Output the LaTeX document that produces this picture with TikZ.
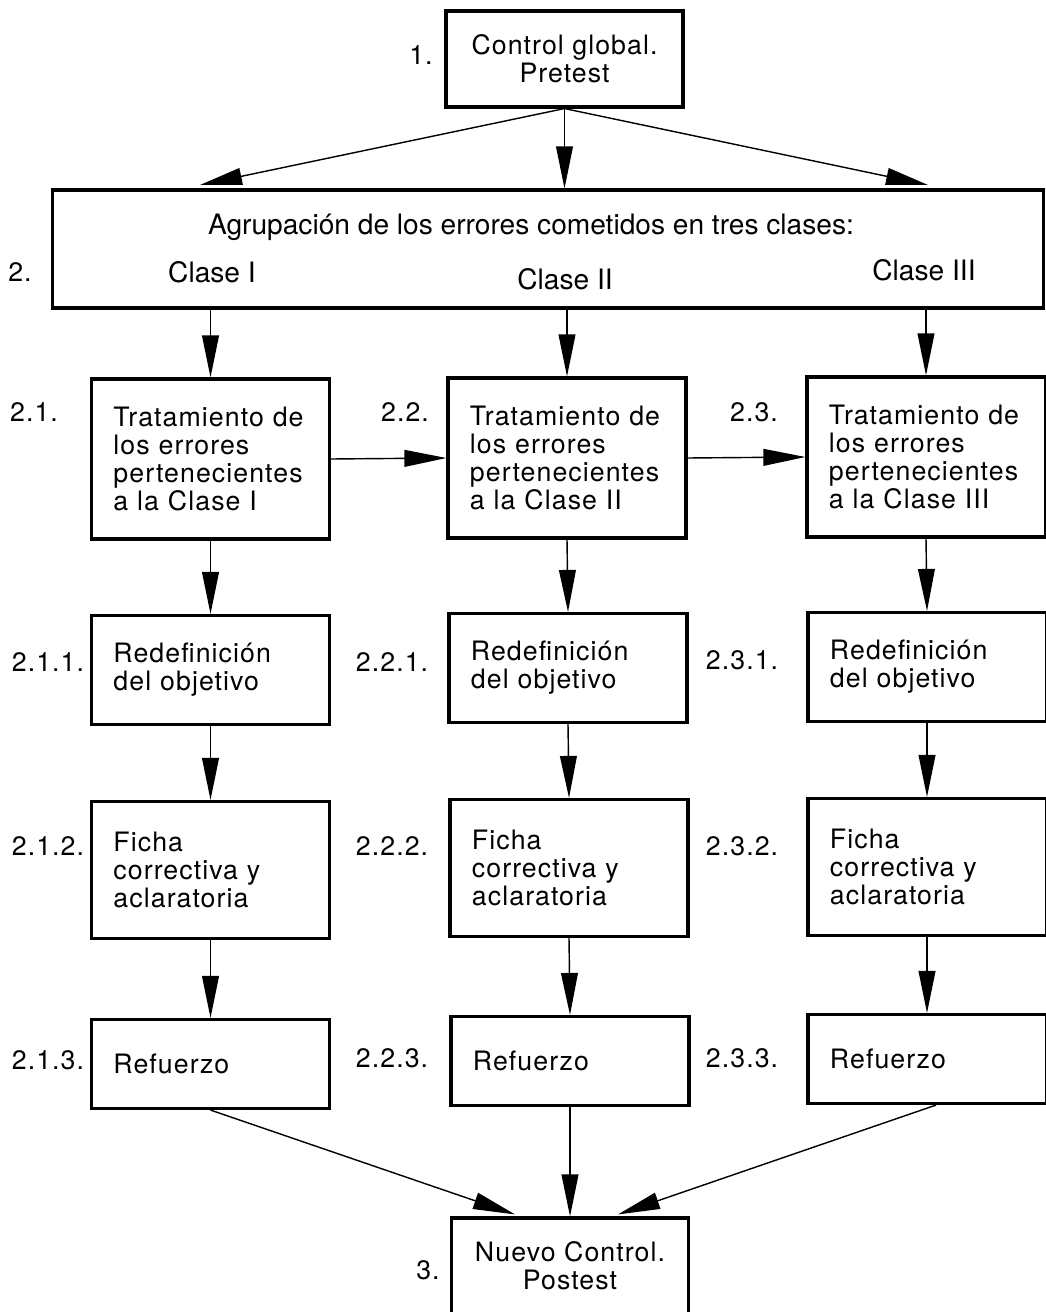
\documentclass[tikz,border=0pt]{standalone}
\usepackage{fontspec}
\setmainfont{TeX Gyre Heros}[LetterSpace=4]
\newfontfamily\plainfont{TeX Gyre Heros}
\usetikzlibrary{arrows.meta,calc}

\begin{document}
\begin{tikzpicture}[x=0.025cm,y=-0.025cm,
  font=\fontsize{19}{20}\selectfont,
  box/.style={draw,line width=2.2pt,text width=4.85cm,inner xsep=0.55cm,inner ysep=0pt,align=left},
  topbox/.style={draw,line width=2.2pt,minimum width=5.925cm,minimum height=2.4cm,align=center},
  num/.style={inner sep=0pt},
  arr/.style={-{Triangle[length=1.05cm,width=0.42cm]},line width=1pt},
  wide/.style={font=\fontsize{20}{22}\selectfont\plainfont,inner sep=0pt}]
\useasboundingbox (0,0) rectangle (1045,1312);
% step 1 and the grouping box
\node[topbox] (b1) at (564.5,59) {Control global.\\Pretest};
\node[draw,line width=2.2pt,minimum width=24.75cm,minimum height=2.95cm] (b2) at (548,249) {};
\node[wide] (k0) at (531,227) {Agrupación de los errores cometidos en tres clases:};
\node[wide] (k1) at (212,272) {Clase I};
\node[wide] (k2) at (565,279) {Clase II};
\node[wide] (k3) at (924,270) {Clase III};
\coordinate (a1) at (200,185);
\coordinate (a3) at (928,185);
\draw[arr] (b1.south) -- (a1);
\draw[arr] (b1.south) -- (b2.north -| b1.south);
\draw[arr] (b1.south) -- (a3);
% the three columns
\node[box,minimum height=4cm] (t1) at (210.5,459) {Tratamiento de\\los errores\\pertenecientes\\a la Clase I};
\node[box,minimum height=4cm] (t2) at (567,458) {Tratamiento de\\los errores\\pertenecientes\\a la Clase II};
\node[box,minimum height=4cm] (t3) at (926,457) {Tratamiento de\\los errores\\pertenecientes\\a la Clase III};
\node[box,minimum height=2.725cm] (r1) at (210.5,670) {Redefinición\\del objetivo};
\node[box,minimum height=2.725cm] (r2) at (568,668) {Redefinición\\del objetivo};
\node[box,minimum height=2.725cm] (r3) at (927,667) {Redefinición\\del objetivo};
\node[box,minimum height=3.425cm] (f1) at (210.5,870) {Ficha\\correctiva y\\aclaratoria};
\node[box,minimum height=3.425cm] (f2) at (569,868) {Ficha\\correctiva y\\aclaratoria};
\node[box,minimum height=3.425cm] (f3) at (927,867) {Ficha\\correctiva y\\aclaratoria};
\node[box,minimum height=2.225cm] (z1) at (210.5,1064) {Refuerzo};
\node[box,minimum height=2.225cm] (z2) at (570,1061) {Refuerzo};
\node[box,minimum height=2.225cm] (z3) at (927,1059) {Refuerzo};
\node[topbox] (b3) at (570,1266) {Nuevo Control.\\Postest};
% numbers
\node[num] (n1) at (421,55) {1.};
\node[num] (n2) at (20,272) {2.};
\node[num] (n21) at (34,412) {2.1.};
\node[num] (n22) at (405,412) {2.2.};
\node[num] (n23) at (754,412) {2.3.};
\node[num] (n211) at (48,662) {2.1.1.};
\node[num] (n221) at (392,662) {2.2.1.};
\node[num] (n231) at (742,660) {2.3.1.};
\node[num] (n212) at (48,846) {2.1.2.};
\node[num] (n222) at (392,846) {2.2.2.};
\node[num] (n232) at (742,846) {2.3.2.};
\node[num] (n213) at (48,1060) {2.1.3.};
\node[num] (n223) at (392,1058) {2.2.3.};
\node[num] (n233) at (742,1058) {2.3.3.};
\node[num] (n3) at (428,1270) {3.};
% connectors
\foreach \c in {1,2,3} {
  \draw[arr] (b2.south -| t\c.north) -- (t\c.north);
  \draw[arr] (t\c.south) -- (r\c.north);
  \draw[arr] (r\c.south) -- (f\c.north);
  \draw[arr] (f\c.south) -- (z\c.north);
}
\draw[arr] (t1.east) -- (t2.west);
\draw[arr] (t2.east) -- (t3.west);
\coordinate (e1) at ($(b3.north)+(-55,-2)$);
\coordinate (e3) at ($(b3.north)+(48,-2)$);
\draw[arr] (z1.south) -- (e1);
\draw[arr] (z2.south) -- (b3.north -| z2.south);
\draw[arr] ($(z3.south)+(9,0)$) -- (e3);
\end{tikzpicture}
\end{document}
